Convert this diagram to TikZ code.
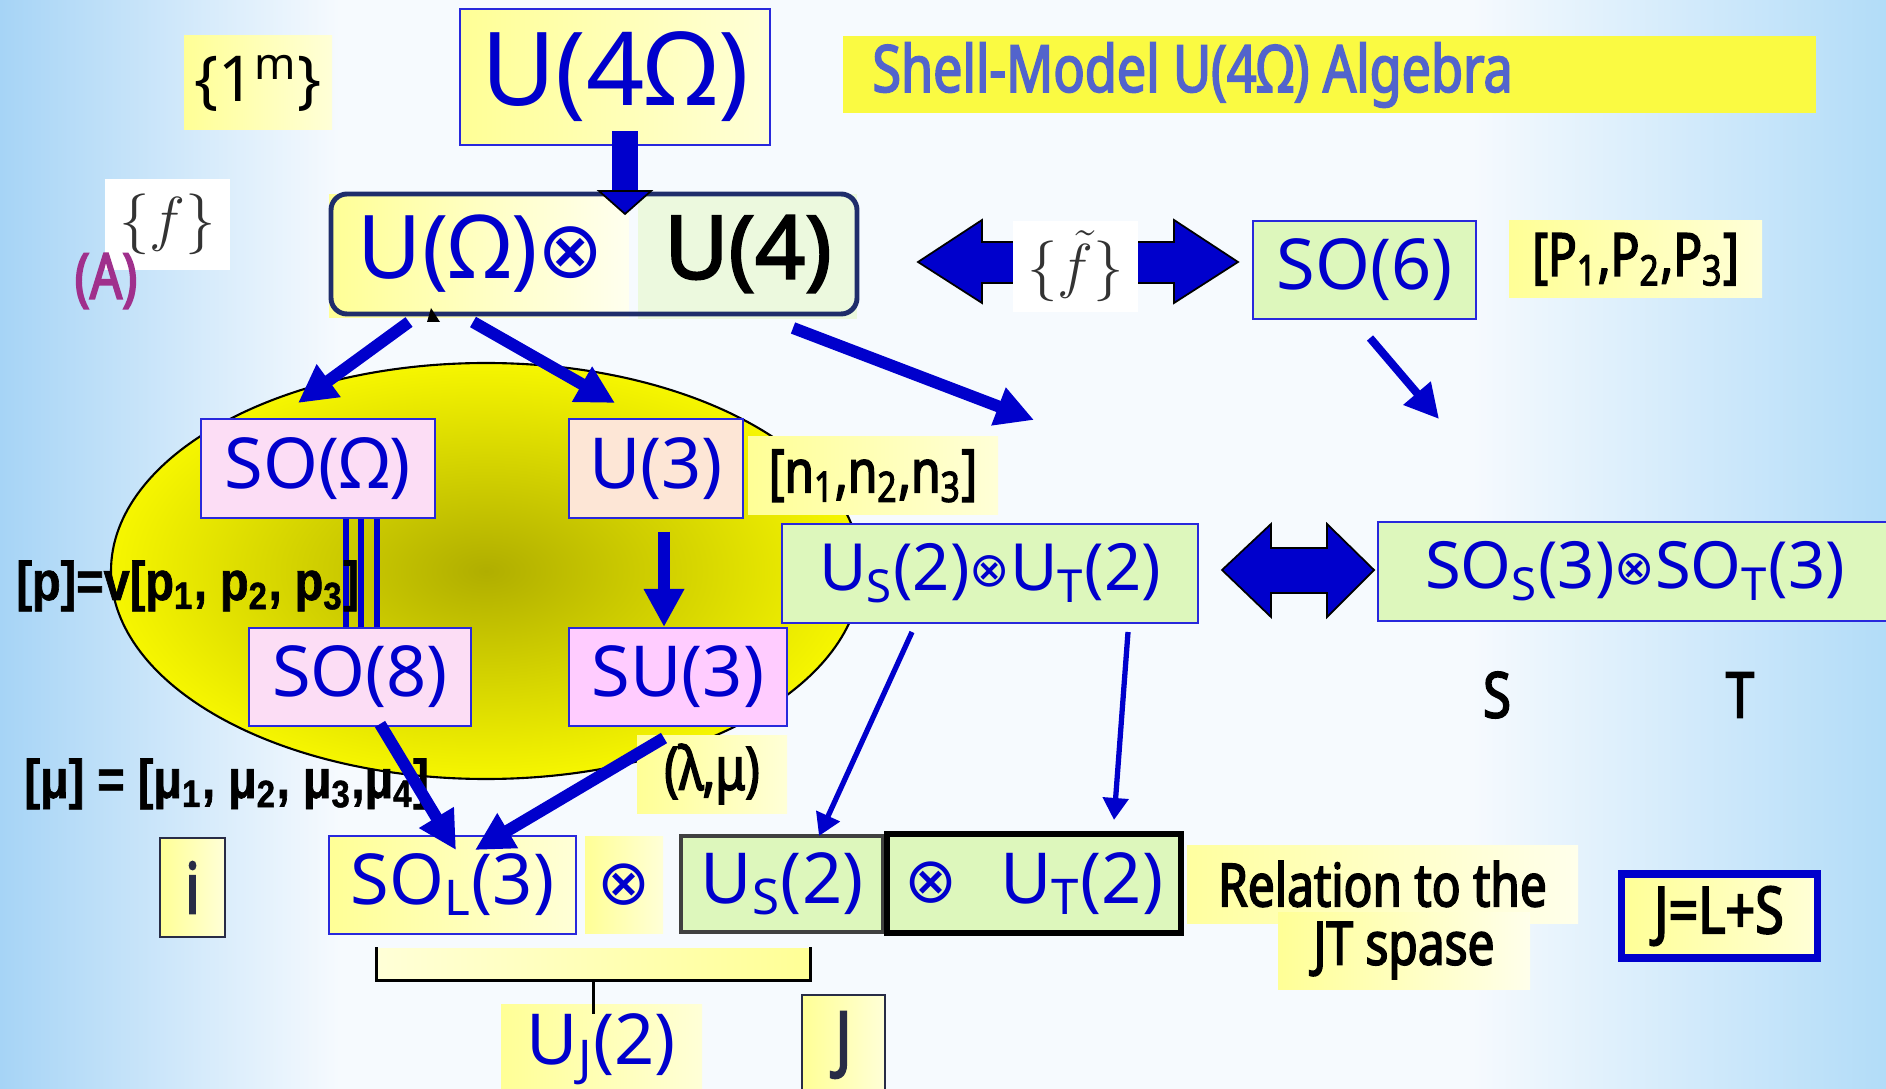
\documentclass[tikz,border=0pt]{standalone}
\usepackage{fontspec}
\usetikzlibrary{arrows.meta,calc}
\newfontfamily\lblfont{Noto Sans}
\newfontfamily\heavyfont{Noto Sans}[FakeBold=2.4]
\newfontfamily\blkfont{Noto Sans}[FakeStretch=0.8, FakeBold=2.6]
\newfontfamily\narrowfont{Liberation Sans}[FakeStretch=0.86, FakeBold=1.2]
\newfontfamily\symfont{DejaVu Sans}
\newcommand\otm{\raisebox{0.06em}{\scalebox{0.74}{\symfont ⊗}}}
\newcommand\otbig{\raisebox{0.02em}{\scalebox{0.9}{\symfont ⊗}}}
\newcommand\sbs[1]{\textsubscript{#1}}

\definecolor{bluetxt}{RGB}{0,0,204}
\definecolor{bordblue}{RGB}{40,40,220}
\definecolor{grn}{RGB}{221,247,188}
\definecolor{grnpale}{RGB}{236,249,222}
\definecolor{pinkA}{RGB}{252,221,245}
\definecolor{pinkB}{RGB}{255,204,255}
\definecolor{peach}{RGB}{253,230,214}
\definecolor{yelA}{RGB}{255,255,150}
\definecolor{yelB}{RGB}{255,255,215}
\definecolor{titleyel}{RGB}{250,250,66}
\definecolor{titleblue}{RGB}{82,100,204}
\definecolor{navy}{RGB}{31,45,107}
\definecolor{plum}{RGB}{160,48,140}
\definecolor{slate}{RGB}{40,44,70}
\definecolor{olivec}{RGB}{176,174,0}
\definecolor{yelbright}{RGB}{246,246,0}
\definecolor{bgblue}{RGB}{166,212,246}
\definecolor{bgblueR}{RGB}{178,220,248}
\definecolor{bgwhite}{RGB}{246,250,254}

\pgfdeclarehorizontalshading{bgshade}{100bp}{color(0bp)=(bgblue); color(25bp)=(bgblue); color(34bp)=(bgwhite); color(50bp)=(bgwhite); color(64bp)=(bgwhite); color(75bp)=(bgblueR); color(100bp)=(bgblueR)}

\tikzset{
  lbl/.style={font=\lblfont\fontsize{20}{24}\selectfont, text=bluetxt},
  blk/.style={font=\blkfont\fontsize{17}{20}\selectfont, text=black},
  yshade/.style={left color=yelA, right color=yelB},
  bluebdr/.style={draw=bordblue, line width=0.8pt},
  thickarr/.style={draw=bluetxt, line width=3.4pt, -{Triangle[length=0.38cm,width=0.38cm]}},
  medarr/.style={draw=bluetxt, line width=2.3pt, -{Triangle[length=0.34cm,width=0.34cm]}},
  thinarr/.style={draw=bluetxt, line width=1.5pt, -{Triangle[length=0.22cm,width=0.25cm]}},
  blockarr/.style={fill=bluetxt, draw=black, line width=0.5pt, line join=miter},
}
% box given by its corners (x1,y1)-(x2,y2)
\newcommand\place[6][]{\node[inner sep=0pt,#1,minimum width={(#5-#3)*0.01cm},minimum height={(#6-#4)*0.01cm}] (#2) at ({(#3+#5)/2},{(#4+#6)/2})}

\begin{document}
\begin{tikzpicture}[x=0.01cm,y=-0.01cm]
\clip (0,0) rectangle (1886,1089);
\shade[shading=bgshade] (0,0) rectangle (1886,1089);

% orbital-group ellipse
\draw[line width=0.6pt, inner color=olivec, outer color=yelbright] (486,571) ellipse [x radius=375, y radius=208];

% top row
\place[yshade, font=\lblfont\fontsize{18}{22}\selectfont]{ones}{184}{36}{332}{130}{\{1\textsuperscript{m}\}};
\place[yshade, bluebdr, lbl, font=\lblfont\fontsize{29}{34}\selectfont]{u4o}{460}{9}{770}{145}{U(4Ω)};
\place[fill=titleyel]{title}{843}{36}{1816}{113}{};
\node[anchor=west, font=\blkfont\fontsize{18.5}{21}\selectfont, text=titleblue] (titletext) at (860,75) {Shell-Model U(4Ω) Algebra};

\place[fill=white, font=\fontsize{17.28}{20}\selectfont, text=black!80]{fbox}{105}{179}{230}{270}{$\{f\}$};
\node[font=\blkfont\fontsize{18}{20}\selectfont, text=plum] (alab) at (106,281) {(A)};

% U(Omega) x U(4)
\fill[left color=yelA, right color=white!60!yelB] (329,195) rectangle (629,318);
\fill[grnpale] (638,194) rectangle (857,319);
\place[draw=navy, line width=1.4pt, rounded corners=0.16cm]{uou4}{331}{194}{857}{314}{};
\node[lbl, font=\lblfont\fontsize{25}{30}\selectfont] (uo) at (481,254) {U(Ω)\otbig};
\node[font=\heavyfont\fontsize{25}{30}\selectfont, text=black] (u4) at (748,254) {U(4)};

% U(4Omega) -> U(Omega)xU(4)
\coordinate (dA) at (625,131);
\fill[bluetxt] ($(dA)+(-13,0)$) rectangle ($(dA)+(13,61)$);
\draw[blockarr] ($(dA)+(-26,60)$) -- ($(dA)+(26,60)$) -- ($(dA)+(0,83)$) -- cycle;

% double arrow U(Omega)xU(4) <-> SO(6)
\draw[blockarr] (918,262) -- (982,220) -- (982,242) -- (1174,242) -- (1174,220) -- (1238,262) -- (1174,303) -- (1174,283) -- (982,283) -- (982,303) -- cycle;
\place[fill=white, font=\fontsize{17.28}{20}\selectfont, text=black!80]{ftbox}{1013}{221}{1138}{312}{$\{\tilde f\}$};

\place[fill=grn, bluebdr, lbl]{so6}{1253}{221}{1476}{319}{SO(6)};
\place[yshade, blk]{pset}{1509}{221}{1762}{298}{[P\sbs1,P\sbs2,P\sbs3]};

% second row
\place[fill=pinkA, bluebdr, lbl]{soo}{201}{419}{435}{518}{SO(Ω)};
\place[fill=peach, bluebdr, lbl]{u3}{569}{419}{743}{518}{U(3)};
\place[yshade, blk]{nset}{748}{437}{998}{515}{[n\sbs1,n\sbs2,n\sbs3]};
\place[fill=grn, bluebdr, lbl, font=\lblfont\fontsize{18.5}{22}\selectfont]{usut}{782}{524}{1198}{623}{U\sbs{S}(2)\otm U\sbs{T}(2)};
\place[fill=grn, bluebdr, lbl, font=\lblfont\fontsize{18.5}{22}\selectfont]{sost}{1378}{522}{1892}{621}{SO\sbs{S}(3)\otm SO\sbs{T}(3)};

% third row
\place[fill=pinkA, bluebdr, lbl]{so8}{249}{628}{471}{726}{SO(8)};
\place[fill=pinkB, bluebdr, lbl]{su3}{569}{628}{787}{726}{SU(3)};
\place[yshade, blk]{lm}{637}{735}{787}{813}{(λ,μ)};
\node[blk, font=\blkfont\fontsize{18}{20}\selectfont] (slab) at (1497,695) {S};
\node[blk, font=\blkfont\fontsize{18}{20}\selectfont] (tlab) at (1740,695) {T};

% SO(Omega) ||| SO(8)
\foreach \dx in {346,361,377}
  \draw[bluetxt, line width=1.5pt] (soo.south -| \dx,0) -- (so8.north -| \dx,0);

\node[anchor=base west, font=\narrowfont\bfseries\fontsize{15.5}{19}\selectfont] (ptext) at (4,600) {[p]=v[p\sbs1, p\sbs2, p\sbs3]};
\node[anchor=base west, font=\narrowfont\bfseries\fontsize{15.5}{19}\selectfont] (mutext) at (12,798) {[μ] = [μ\sbs1, μ\sbs2, μ\sbs3,μ\sbs4]};

% bottom row
\place[yshade, draw=slate, line width=0.8pt, blk, font=\blkfont\fontsize{20}{24}\selectfont, text=slate]{ibox}{160}{838}{225}{937}{i};
\place[yshade, bluebdr, lbl]{sol}{329}{836}{576}{934}{SO\sbs{L}(3)};
\place[yshade, lbl]{otbox}{585}{836}{663}{933}{\otbig};
\place[fill=grn, draw=black!75, line width=0.9pt, lbl]{us}{681}{836}{883}{932}{U\sbs{S}(2)};
\place[fill=grn, draw=black, line width=1.6pt, lbl]{otut}{887}{834}{1181}{933}{\otbig\hspace{0.6em}U\sbs{T}(2)};
\place[left color=yelA!85!yelB, right color=white!50!yelB, blk]{rel}{1187}{845}{1578}{923}{Relation to the};
\place[left color=yelA, right color=white!50!yelB, blk]{jt}{1278}{912}{1530}{989}{JT spase};
\place[yshade, draw=bluetxt, line width=2pt, blk, font=\blkfont\fontsize{18.5}{22}\selectfont]{jls}{1621}{874}{1817}{958}{J=L+S};

% J coupling bracket
\place[left color=yelB, right color=yelA]{brk}{377}{948}{810}{980}{};
\draw[black, line width=0.8pt] (brk.north west) |- (brk.south east) -- (brk.north east);
\place[yshade, lbl]{uj}{501}{1004}{702}{1095}{U\sbs{J}(2)};
\draw[black, line width=0.8pt] (brk.south) -- ++(0,33);
\place[yshade, draw=slate, line width=0.8pt, blk, font=\blkfont\fontsize{21}{24}\selectfont, text=slate]{jbox}{802}{995}{885}{1095}{J};

% reduction arrows
\coordinate (a1s) at (409,322);  \coordinate (a1e) at (298,403);
\coordinate (a2s) at (473,322);  \coordinate (a2e) at (615,403);
\coordinate (a3s) at (793,328);  \coordinate (a3e) at (1034,420);
\coordinate (a4s) at (1370,338); \coordinate (a4e) at (1439,419);
\coordinate (a5s) at (664,532);  \coordinate (a5e) at (664,627);
\coordinate (a6s) at (380,724);  \coordinate (a6e) at (456,850);
\coordinate (a7s) at (664,738);  \coordinate (a7e) at (475,850);
\coordinate (a8s) at (912,632);  \coordinate (a8e) at (819,836);
\coordinate (a9s) at (1128,632); \coordinate (a9e) at (1114,820);
\draw[thickarr] (a1s) -- (a1e);
\draw[thickarr] (a2s) -- (a2e);
\draw[thickarr] (a3s) -- (a3e);
\draw[medarr] (a4s) -- (a4e);
\draw[thickarr] (a5s) -- (a5e);
\draw[thickarr] (a6s) -- (a6e);
\draw[thickarr] (a7s) -- (a7e);
\draw[thinarr] (a8s) -- (a8e);
\draw[thinarr] (a9s) -- (a9e);
\fill[black] (427,322) -- (440,322) -- (431,308) -- cycle;

% double arrow U_S(2)xU_T(2) <-> SO_S(3)xSO_T(3)
\draw[blockarr] (1222,570) -- (1271,524) -- (1271,548) -- (1327,548) -- (1327,524) -- (1374,570) -- (1327,617) -- (1327,593) -- (1271,593) -- (1271,617) -- cycle;
\end{tikzpicture}
\end{document}
